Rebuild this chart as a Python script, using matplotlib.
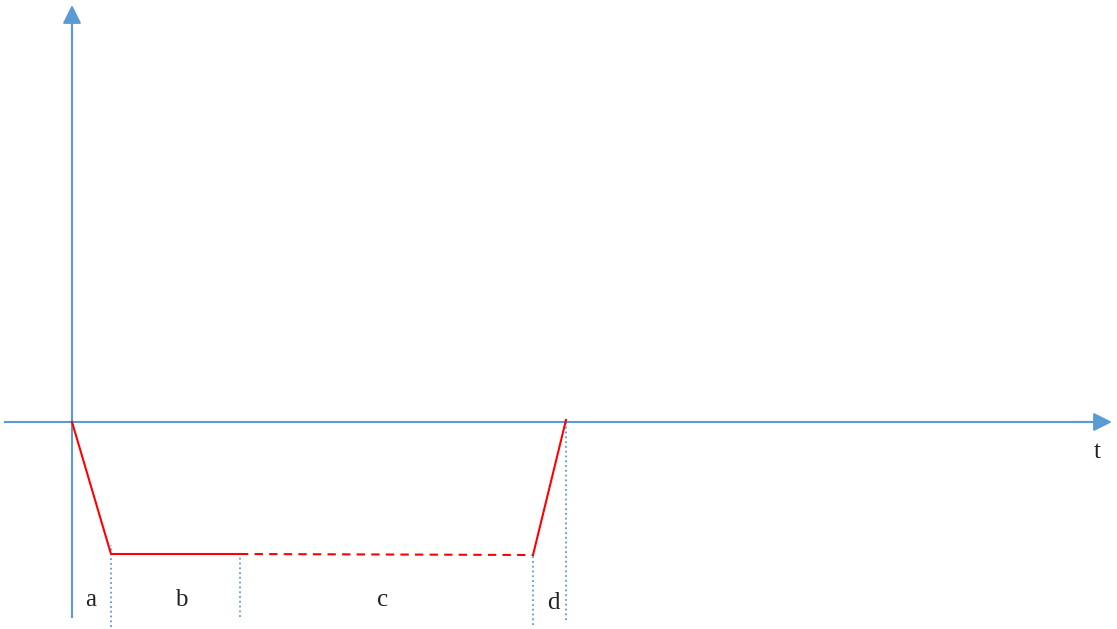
"""Schematic: piecewise level profile over time with phase labels a-d."""
import matplotlib.pyplot as plt

BLUE = "#5B9BD5"
RED = "#FF0000"

# profile breakpoints (time, level); origin sits where the axes cross
t_solid = [0, 39, 168]
y_solid = [0, -132, -132]
t_dash = [168, 461]
y_dash = [-132, -133]
t_rise = [461, 494]
y_rise = [-133, 2]

# dotted phase boundaries: (time, lower end, upper end)
bound_t = [39, 168, 461, 494]
bound_lo = [-205, -195, -203, -198]
bound_hi = [-123, -133, -133, 2]

phase_labels = ["a", "b", "c", "d"]
label_t = [19, 109, 311, 481]
label_y = [-178, -178, -178, -181]

fig = plt.figure(figsize=(11.17, 6.29), dpi=100)
ax = fig.add_axes([0, 0, 1, 1])
ax.set_xlim(-72, 1045)
ax.set_ylim(-207, 422)
ax.axis("off")

# axes with arrowheads
ax.plot([0, 0], [-195, 400], color=BLUE, lw=1.5)
ax.annotate("", xy=(0, 417), xytext=(0, 380),
            arrowprops=dict(arrowstyle="-|>", color=BLUE, lw=1.5,
                            mutation_scale=28, shrinkA=0, shrinkB=0))
ax.plot([-67, 1025], [0, 0], color=BLUE, lw=1.5)
ax.annotate("", xy=(1040, 0), xytext=(1000, 0),
            arrowprops=dict(arrowstyle="-|>", color=BLUE, lw=1.5,
                            mutation_scale=28, shrinkA=0, shrinkB=0))
ax.text(1025, -30, "t", fontsize=18, family="Liberation Serif",
        ha="center", va="center", color="#222222")

# phase boundaries
for t, lo, hi in zip(bound_t, bound_lo, bound_hi):
    ax.plot([t, t], [lo, hi], color=BLUE, lw=1.3, ls=":")

# level profile
ax.plot(t_solid, y_solid, color=RED, lw=1.5)
ax.plot(t_dash, y_dash, color=RED, lw=1.5, dashes=(4, 3))
ax.plot(t_rise, y_rise, color=RED, lw=1.5)

for lab, t, y in zip(phase_labels, label_t, label_y):
    ax.text(t, y, lab, fontsize=18, family="Liberation Serif",
            ha="center", va="center", color="#222222")

fig.savefig("out.png", dpi=100)
